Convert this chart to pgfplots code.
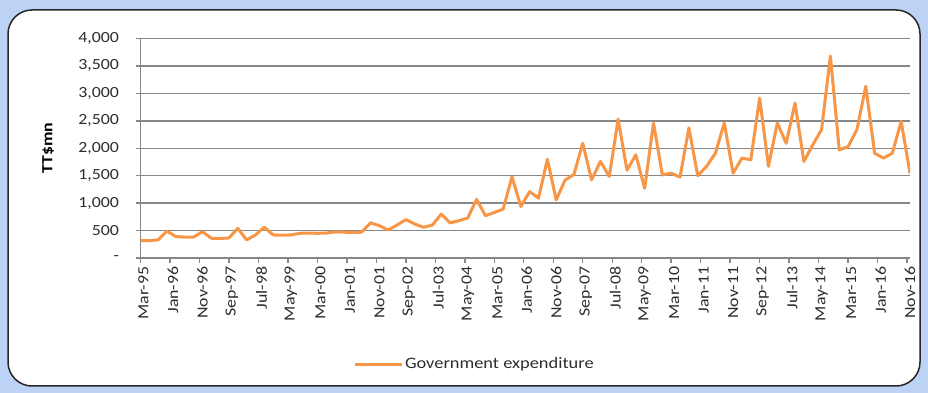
\documentclass[border=0pt]{standalone}
\usepackage{pgfplots}
\usepackage{pgfplotstable}
\pgfplotsset{compat=1.18}
\usepackage{fontspec}
\setmainfont{Carlito}[FakeStretch=1.15]
\definecolor{bgblue}{RGB}{188,211,246}
\definecolor{lineorange}{RGB}{247,150,70}
\definecolor{gridgray}{RGB}{135,135,135}
\definecolor{txt}{RGB}{45,45,45}
\pgfplotstableread{
q val
0 316
1 316
2 330
3 490
4 390
5 380
6 380
7 480
8 360
9 355
10 365
11 540
12 330
13 420
14 560
15 420
16 415
17 420
18 450
19 455
20 450
21 455
22 475
23 470
24 465
25 470
26 640
27 590
28 510
29 600
30 700
31 620
32 560
33 600
34 800
35 640
36 680
37 730
38 1070
39 770
40 830
41 890
42 1480
43 940
44 1210
45 1090
46 1800
47 1060
48 1420
49 1520
50 2090
51 1425
52 1760
53 1485
54 2530
55 1600
56 1880
57 1270
58 2460
59 1515
60 1545
61 1475
62 2370
63 1500
64 1670
65 1910
66 2460
67 1545
68 1820
69 1790
70 2915
71 1670
72 2460
73 2090
74 2825
75 1760
76 2060
77 2340
78 3680
79 1970
80 2030
81 2340
82 3130
83 1910
84 1820
85 1910
86 2490
87 1545
}\govexp
\begin{document}
\begin{tikzpicture}
\fill[bgblue] (0pt,0pt) rectangle (928pt,393pt);
\draw[line width=1.5pt, draw=black!85, fill=white, rounded corners=24pt] (8pt,7pt) rectangle (920pt,383pt);
\begin{axis}[
  at={(140.5pt,135pt)}, anchor=south west,
  scale only axis, width=769.5pt, height=219.5pt,
  xmin=0, xmax=261, ymin=0, ymax=4000,
  axis x line*=bottom, axis y line*=left,
  tick align=outside, major tick length=5pt,
  axis line style={gridgray, line width=1.4pt},
  tick style={gridgray, line width=1.4pt},
  ymajorgrids, grid style={gridgray, line width=1.4pt},
  ytick={0,500,...,4000},
  yticklabels={-,500,{1,000},{1,500},{2,000},{2,500},{3,000},{3,500},{4,000}},
  xtick={0,10,...,260},
  xticklabels={Mar-95,Jan-96,Nov-96,Sep-97,Jul-98,May-99,Mar-00,Jan-01,Nov-01,Sep-02,Jul-03,May-04,Mar-05,Jan-06,Nov-06,Sep-07,Jul-08,May-09,Mar-10,Jan-11,Nov-11,Sep-12,Jul-13,May-14,Mar-15,Jan-16,Nov-16},
  every tick label/.append style={font=\fontsize{15.5}{18}\selectfont, text=txt},
  xticklabel style={rotate=90, anchor=east, yshift=-3pt},
  yticklabel style={anchor=east, xshift=-13pt},
  ylabel={\textbf{TT\$mn}},
  ylabel style={at={(axis description cs:-0.120,0.5)}, anchor=center, font=\fontsize{15.5}{18}\selectfont, text=black},
  legend style={at={(axis description cs:0.272,-0.483)}, anchor=west, draw=none, fill=none, font=\fontsize{16}{18}\selectfont, text=txt},
  legend image code/.code={\draw[#1] (0pt,0pt) -- (47pt,0pt);},
]
\addplot[lineorange, line width=3pt, line join=round] table[x expr=3*\thisrow{q}, y=val] {\govexp};
\addlegendentry{Government expenditure}
\end{axis}
\end{tikzpicture}
\end{document}
